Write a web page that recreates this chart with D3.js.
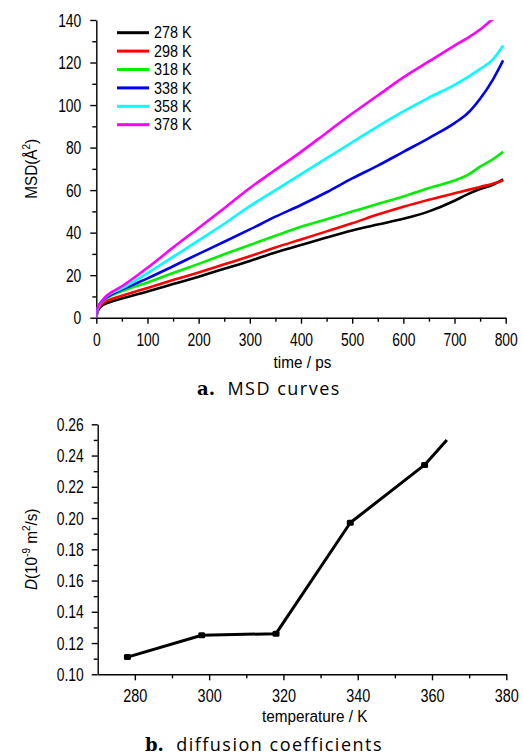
<!DOCTYPE html>
<html>
  <head>
    <meta charset="utf-8">
    <style>
      body { margin: 0; background: #fff; }
      svg { display: block; }
      .axis path, .axis line { stroke: #000; stroke-width: 1.4; }
      .axis text { font-family: "Liberation Sans", Arial, sans-serif; font-size: 19px; fill: #000; }
      .lbl { font-family: "Liberation Sans", Arial, sans-serif; font-size: 17px; fill: #000; }
      .leg { font-family: "Liberation Sans", Arial, sans-serif; font-size: 16px; fill: #000; }
      .cap { font-family: "Open Sans", "DejaVu Sans", sans-serif; font-size: 18px; fill: #000; letter-spacing: 1.5px; }
      .cap .bold { font-family: "DejaVu Serif", "Liberation Serif", serif; font-weight: bold; letter-spacing: 0; }
    </style>
  </head>
  <body>
    <script src="https://d3js.org/d3.v7.min.js"></script>
    <script>
      var W = 523, H = 756;

      // ---- (a) MSD curves ----
      var times = [0, 2, 5, 10, 20, 30, 50, 100, 150, 200, 250, 300, 350, 400, 450, 500, 550, 600, 650, 700, 725, 750, 775, 795];
      var temps = ["278 K", "298 K", "318 K", "338 K", "358 K", "378 K"];
      var colors = ["#000000", "#ff0000", "#00ee00", "#0000ee", "#00ffff", "#ff00ff"];
      var msd278 = [0, 2.5, 4, 5.5, 6.8, 7.6, 9, 12.3, 15.8, 19.3, 23, 26.7, 30.7, 34.2, 37.7, 41, 43.8, 46.5, 50, 55, 58, 60.5, 62.5, 65];
      var msd298 = [0, 3, 4.5, 6, 7.8, 8.8, 10.3, 14, 17.7, 21.3, 25.1, 28.9, 33, 36.8, 40.6, 44.4, 48.5, 52.2, 55.5, 58.5, 60, 61.5, 63, 64.5];
      var msd318 = [0, 3.5, 5.5, 7, 9.2, 10.5, 12.5, 16.6, 21, 25.3, 29.8, 34.2, 38.5, 42.8, 46.3, 49.9, 53.5, 57, 61, 64.5, 67, 71, 74.5, 78];
      var msd338 = [0, 3.5, 5.5, 7.5, 9.5, 11, 13.2, 18.5, 24.2, 30, 35.7, 41.5, 47.5, 53, 59, 65.5, 71.5, 78, 84.5, 91.5, 96, 103, 112, 121];
      var msd358 = [0, 3.5, 5.5, 7.5, 10, 11.5, 13.8, 21, 28.6, 36.4, 44.2, 52.5, 60, 67.5, 75, 82.5, 90, 97, 103.5, 109.5, 113, 117, 121.5, 128];
      var msd378 = [0, 4, 6, 7.5, 10.3, 12, 14.8, 23.5, 33, 42.2, 51.5, 61, 69.5, 78, 87, 96, 104.5, 113, 120.5, 128, 131.5, 135.5, 140.5, 144];
      var msdSeries = [msd278, msd298, msd318, msd338, msd358, msd378];
      var timeTicks = [0, 100, 200, 300, 400, 500, 600, 700, 800];
      var msdTicks = [0, 20, 40, 60, 80, 100, 120, 140];

      // ---- (b) diffusion coefficients ----
      var tempK = [278, 298, 318, 338, 358];
      var diff = [0.111, 0.125, 0.126, 0.197, 0.234];
      var tailT = [364], tailD = [0.250];   // line runs on past the last point
      var tempTicks = [280, 300, 320, 340, 360, 380];
      var diffTicks = [0.10, 0.12, 0.14, 0.16, 0.18, 0.20, 0.22, 0.24, 0.26];

      var svg = d3.select("body").append("svg")
          .attr("width", W)
          .attr("height", H);

      // squeeze tick text sideways, the original font is narrow
      function squeeze(g, k) {
        g.selectAll("text").each(function() {
          var t = d3.select(this);
          var x = +t.attr("x") || 0;
          t.attr("x", x / k).attr("transform", "scale(" + k + ",1)");
        });
      }

      function minorAxis(g, axis) {
        g.call(axis.tickFormat("")).select(".domain").remove();
      }

      // ================= chart a =================
      var xA = d3.scaleLinear().domain([0, 800]).range([96.3, 505.7]);
      var yA = d3.scaleLinear().domain([0, 140]).range([317.7, 20]);

      svg.append("defs").append("clipPath").attr("id", "clipA")
        .append("rect")
          .attr("x", xA(0)).attr("y", yA(140))
          .attr("width", xA(800) - xA(0)).attr("height", yA(0) - yA(140));

      var gx = svg.append("g").attr("class", "axis")
          .attr("transform", "translate(0," + yA(0) + ")")
          .call(d3.axisBottom(xA).tickValues(timeTicks).tickSize(6).tickPadding(9).tickSizeOuter(0));
      squeeze(gx, 0.73);
      svg.append("g").attr("class", "axis")
          .attr("transform", "translate(0," + yA(0) + ")")
          .call(function(g) { minorAxis(g, d3.axisBottom(xA).tickValues(d3.range(50, 800, 100)).tickSize(4)); });

      var gy = svg.append("g").attr("class", "axis")
          .attr("transform", "translate(" + xA(0) + ",0)")
          .call(d3.axisLeft(yA).tickValues(msdTicks).tickSize(6).tickPadding(9).tickSizeOuter(0));
      squeeze(gy, 0.73);
      svg.append("g").attr("class", "axis")
          .attr("transform", "translate(" + xA(0) + ",0)")
          .call(function(g) { minorAxis(g, d3.axisLeft(yA).tickValues(d3.range(10, 140, 20)).tickSize(4)); });

      var line = d3.line()
          .curve(d3.curveMonotoneX)
          .x(function(d) { return xA(d[0]); })
          .y(function(d) { return yA(d[1]); });

      var curves = svg.append("g").attr("clip-path", "url(#clipA)");
      msdSeries.forEach(function(vals, i) {
        curves.append("path")
            .datum(times.map(function(t, j) { return [t, vals[j]]; }))
            .attr("fill", "none")
            .attr("stroke", colors[i])
            .attr("stroke-width", 2.6)
            .attr("stroke-linejoin", "round")
            .attr("d", line);
      });

      // legend
      var leg = svg.append("g").attr("transform", "translate(117,32.7)");
      temps.forEach(function(name, i) {
        var row = leg.append("g").attr("transform", "translate(0," + i * 18.4 + ")");
        row.append("line")
            .attr("x1", 0).attr("x2", 32)
            .attr("stroke", colors[i]).attr("stroke-width", 3);
        row.append("text")
            .attr("class", "leg")
            .attr("x", 37 / 0.9).attr("dy", "0.36em")
            .attr("transform", "scale(0.9,1)")
            .text(name);
      });

      svg.append("text").attr("class", "lbl")
          .attr("transform", "translate(302.5,368) scale(0.9,1)")
          .attr("text-anchor", "middle")
          .text("time / ps");

      var yl = svg.append("text").attr("class", "lbl")
          .attr("transform", "translate(37," + (yA(0) + yA(140)) / 2 + ") rotate(-90) scale(0.9,1)")
          .attr("text-anchor", "middle");
      yl.append("tspan").text("MSD(Å");
      yl.append("tspan").attr("dy", -7).style("font-size", "11px").text("2");
      yl.append("tspan").attr("dy", 7).text(")");

      var capA = svg.append("text").attr("class", "cap")
          .attr("x", 269).attr("y", 395).attr("text-anchor", "middle");
      capA.append("tspan").attr("class", "bold").text("a.");
      capA.append("tspan").text("\u00a0 MSD curves");

      // ================= chart b =================
      var xB = d3.scaleLinear().domain([270, 380]).range([97.7, 506.3]);
      var yB = d3.scaleLinear().domain([0.10, 0.26]).range([674.3, 424.3]);

      var gxb = svg.append("g").attr("class", "axis")
          .attr("transform", "translate(0," + yB(0.10) + ")")
          .call(d3.axisBottom(xB).tickValues(tempTicks).tickSize(6).tickPadding(8).tickSizeOuter(0));
      squeeze(gxb, 0.76);
      svg.append("g").attr("class", "axis")
          .attr("transform", "translate(0," + yB(0.10) + ")")
          .call(function(g) { minorAxis(g, d3.axisBottom(xB).tickValues(d3.range(290, 380, 20)).tickSize(4)); });

      var gyb = svg.append("g").attr("class", "axis")
          .attr("transform", "translate(" + xB(270) + ",0)")
          .call(d3.axisLeft(yB).tickValues(diffTicks).tickFormat(d3.format(".2f")).tickSize(6).tickPadding(8).tickSizeOuter(0));
      squeeze(gyb, 0.73);
      svg.append("g").attr("class", "axis")
          .attr("transform", "translate(" + xB(270) + ",0)")
          .call(function(g) { minorAxis(g, d3.axisLeft(yB).tickValues(d3.range(0.11, 0.26, 0.02)).tickSize(4)); });

      var pts = tempK.map(function(t, i) { return [t, diff[i]]; });
      var full = pts.concat(tailT.map(function(t, i) { return [t, tailD[i]]; }));

      svg.append("path")
          .datum(full)
          .attr("fill", "none")
          .attr("stroke", "#000")
          .attr("stroke-width", 3)
          .attr("stroke-linejoin", "round")
          .attr("d", d3.line()
            .x(function(d) { return xB(d[0]); })
            .y(function(d) { return yB(d[1]); }));

      svg.append("g").selectAll("rect")
          .data(pts)
        .enter().append("rect")
          .attr("x", function(d) { return xB(d[0]) - 3.5; })
          .attr("y", function(d) { return yB(d[1]) - 3; })
          .attr("width", 7).attr("height", 6).attr("rx", 1.5)
          .attr("fill", "#000");

      svg.append("text").attr("class", "lbl")
          .attr("transform", "translate(314.7,722) scale(0.9,1)")
          .attr("text-anchor", "middle")
          .text("temperature / K");

      var ylb = svg.append("text").attr("class", "lbl")
          .attr("transform", "translate(37," + (yB(0.10) + yB(0.26)) / 2 + ") rotate(-90) scale(0.9,1)")
          .attr("text-anchor", "middle");
      ylb.append("tspan").style("font-style", "italic").text("D");
      ylb.append("tspan").text("(10");
      ylb.append("tspan").attr("dy", -7).style("font-size", "11px").text("-9");
      ylb.append("tspan").attr("dy", 7).text(" m");
      ylb.append("tspan").attr("dy", -7).style("font-size", "11px").text("2");
      ylb.append("tspan").attr("dy", 7).text("/s)");

      var capB = svg.append("text").attr("class", "cap")
          .attr("x", 264).attr("y", 751).attr("text-anchor", "middle");
      capB.append("tspan").attr("class", "bold").text("b.");
      capB.append("tspan").text("\u00a0 diffusion coefficients");
    </script>
  </body>
</html>
